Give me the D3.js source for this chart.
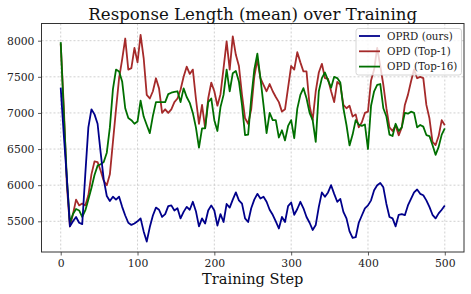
<!DOCTYPE html>
<html>
<head>
<meta charset="utf-8">
<script src="https://cdn.jsdelivr.net/npm/d3@7"></script>
<style>
  body { margin: 0; background: #fff; }
  svg { display: block; font-family: "DejaVu Serif", serif; }
</style>
</head>
<body>
<svg id="chart" width="471" height="294"></svg>
<script>
const steps = d3.range(0, 501, 4);

const oprd = [7350,6700,6100,5430,5500,5560,5480,5460,6150,6800,7050,6980,6850,6450,6080,5850,
5780,5840,5800,5840,5700,5580,5480,5450,5470,5500,5540,5360,5220,5420,5580,5690,
5660,5560,5600,5710,5720,5650,5680,5540,5630,5700,5660,5770,5640,5430,5540,5470,
5650,5720,5650,5440,5600,5490,5740,5690,5800,5900,5790,5745,5540,5490,5680,5800,
5880,5815,5840,5770,5660,5590,5500,5400,5560,5490,5710,5760,5590,5670,5770,5680,
5560,5480,5380,5450,5700,5900,5840,5900,6000,5880,5770,5810,5630,5540,5360,5270,
5280,5480,5580,5680,5720,5790,5930,6000,6030,5970,5740,5560,5540,5430,5590,5600,
5585,5720,5810,5900,5940,5880,5860,5790,5700,5590,5540,5610,5660,5720];

const opdTop1 = [7960,7100,6000,5430,5600,5800,5720,5745,5720,5860,6150,6330,6320,6200,6060,6000,
6150,6600,7050,7480,7740,8030,7600,7620,7900,7700,8080,7760,7250,7200,7300,7480,
7340,7000,7050,7000,7050,7150,7200,7320,7500,7640,7540,7600,7200,6850,7111,6790,
7200,7420,7300,7100,7260,7620,7990,7600,8060,7805,7650,7250,6926,6850,7050,7500,
7740,7480,7390,7300,7400,7300,7220,7150,7018,7050,7350,7650,7600,7840,7700,7574,
7574,7100,6900,7300,7560,7680,7482,7470,7300,7150,7430,7390,7111,7065,7100,6950,
6980,6800,6870,7000,7018,7450,7600,7900,7650,7390,7065,6800,6750,6830,6690,6800,
7111,7250,7436,7600,7480,7500,7482,7111,6926,6601,6555,6680,6900,6830];

const opdTop16 = [7980,7000,6100,5480,5600,5670,5650,5560,5650,5800,5960,6140,6270,6290,6320,6450,
6800,7330,7600,7574,7436,7065,6930,6900,6850,6880,7170,6950,6833,6720,6960,7150,
7150,7150,7150,7260,7280,7290,7300,7150,7340,7220,7140,7000,6800,6520,6787,6787,
7150,7200,6900,6750,7080,7250,7600,7300,7550,7580,7436,7111,6694,6700,7200,7600,
7820,7480,7111,6720,7000,6900,6900,6660,6760,6620,6820,6900,6650,7060,7250,7343,
7204,7000,6900,6600,7300,7482,7560,7450,7350,7500,7482,7420,7065,6833,6550,6700,
6900,6840,6820,6840,6500,7100,7300,7390,7400,7065,6950,6700,6680,6850,6750,6800,
7000,6990,7018,7000,6800,6833,6810,6694,6680,6555,6420,6530,6700,6787];

const seriesNames = ["OPRD (ours)", "OPD (Top-1)", "OPD (Top-16)"];
const seriesColors = ["#00008B", "#A52A2A", "#006f00"];
const xTicks = [0, 100, 200, 300, 400, 500];
const yTicks = [5500, 6000, 6500, 7000, 7500, 8000];

const svg = d3.select("#chart");
const L = 41.5, R = 464, T = 23.5, B = 252;

const x = d3.scaleLinear().domain([-25, 525]).range([L, R]);
const y = d3.scaleLinear().domain([5075, 8238]).range([B, T]);

// grid
const g = svg.append("g");
g.selectAll(".gx").data(xTicks).join("line")
  .attr("x1", d => x(d)).attr("x2", d => x(d)).attr("y1", T).attr("y2", B)
  .attr("stroke", "#c4c4c4").attr("stroke-width", 0.8).attr("stroke-dasharray", "2,2");
g.selectAll(".gy").data(yTicks).join("line")
  .attr("y1", d => y(d)).attr("y2", d => y(d)).attr("x1", L).attr("x2", R)
  .attr("stroke", "#c4c4c4").attr("stroke-width", 0.8).attr("stroke-dasharray", "2,2");

// lines
const allSeries = [oprd, opdTop1, opdTop16];
const line = d3.line().x((d, i) => x(steps[i])).y(d => y(d));
svg.append("defs").append("clipPath").attr("id", "clip")
  .append("rect").attr("x", L).attr("y", T).attr("width", R - L).attr("height", B - T);
const lg = svg.append("g").attr("clip-path", "url(#clip)");
[1, 2, 0].forEach(k => {
  lg.append("path").datum(allSeries[k]).attr("d", line)
    .attr("fill", "none").attr("stroke", seriesColors[k]).attr("stroke-width", 1.8)
    .attr("stroke-linejoin", "round");
});

// axes
const xAxis = svg.append("g").attr("transform", `translate(0,${B})`)
  .call(d3.axisBottom(x).tickValues(xTicks).tickSize(3.5).tickPadding(3.5).tickFormat(d3.format("d")));
const yAxis = svg.append("g").attr("transform", `translate(${L},0)`)
  .call(d3.axisLeft(y).tickValues(yTicks).tickSize(3.5).tickPadding(3.5).tickFormat(d3.format("d")));
[xAxis, yAxis].forEach(a => {
  a.select(".domain").remove();
  a.selectAll("line").attr("stroke", "#333").attr("stroke-width", 0.8);
  a.selectAll("text").attr("fill", "#222").style("font-family", "DejaVu Serif").style("font-size", "10.8px");
});

// frame
svg.append("rect").attr("x", L).attr("y", T).attr("width", R - L).attr("height", B - T)
  .attr("fill", "none").attr("stroke", "#333").attr("stroke-width", 1);

// title and label
svg.append("text").attr("x", (L + R) / 2).attr("y", 19.5).attr("text-anchor", "middle")
  .style("font-size", "16.6px").attr("fill", "#111").text("Response Length (mean) over Training");
svg.append("text").attr("x", (L + R) / 2).attr("y", 284).attr("text-anchor", "middle")
  .style("font-size", "14.6px").attr("fill", "#111").text("Training Step");

// legend
const lgd = svg.append("g");
lgd.append("rect").attr("x", 356).attr("y", 28.5).attr("width", 105.5).attr("height", 46.5)
  .attr("rx", 2.5).attr("fill", "#fff").attr("fill-opacity", 0.8).attr("stroke", "#ccc").attr("stroke-width", 0.8);
seriesNames.forEach((n, i) => {
  const yy = 36 + i * 15.3;
  lgd.append("line").attr("x1", 359).attr("x2", 380).attr("y1", yy).attr("y2", yy)
    .attr("stroke", seriesColors[i]).attr("stroke-width", 1.8);
  lgd.append("text").attr("x", 387).attr("y", yy).attr("dy", "0.35em")
    .style("font-size", "10.3px").attr("fill", "#222").text(n);
});
</script>
</body>
</html>
